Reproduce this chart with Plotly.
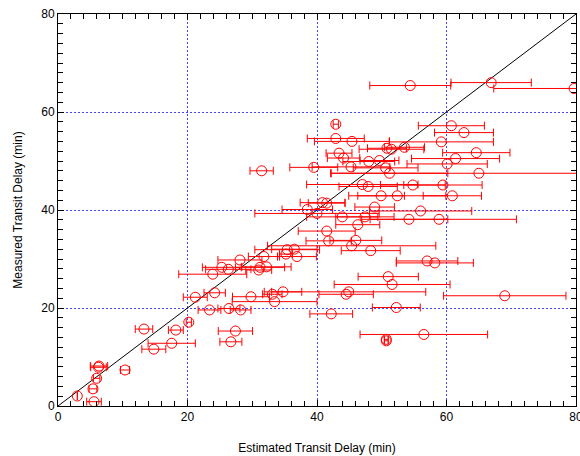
import plotly.graph_objects as go

# Estimated transit delay (min), measured transit delay (min), estimate uncertainty (+/- min)
est_delay = [2.98, 5.56, 5.4, 5.97, 6.33, 6.25, 10.35, 13.28, 14.8, 17.56,
             18.2, 20.2, 21.2, 23.4, 26.4, 28.2, 27.4, 26.7, 24.2, 29.8,
             33.1, 34.75, 33.45, 42.2, 44.5, 44.9, 69.0, 52.25, 56.5, 50.7,
             50.7, 51.0, 51.6, 57.0, 58.2, 41.8, 46.0, 45.35, 48.3, 46.3,
             41.5, 43.9, 47.4, 54.2, 58.85, 56.0, 48.9, 40.0, 38.5, 40.85,
             41.5, 47.0, 47.9, 54.8, 59.45, 49.9, 52.4, 60.9, 39.5, 31.45,
             45.25, 50.6, 51.2, 65.0, 42.9, 42.9, 45.4, 59.2, 50.8, 51.5,
             53.5, 43.4, 44.1, 64.6, 61.4, 48.0, 49.65, 60.1, 54.4, 66.9,
             79.7, 60.75, 62.7, 35.4, 36.5, 35.2, 36.9, 31.8, 28.1, 25.3,
             26.3, 31.2, 32.2, 31.0, 23.9]
meas_delay = [2.04, 0.88, 3.5, 5.65, 8.16, 7.9, 7.35, 15.7, 11.6, 12.8,
              15.5, 17.1, 22.2, 19.6, 19.9, 19.6, 15.3, 13.1, 23.1, 22.3,
              22.8, 23.3, 21.3, 18.8, 22.8, 23.3, 22.5, 20.1, 14.6, 13.3,
              13.6, 26.4, 24.8, 29.6, 29.2, 33.7, 33.8, 32.7, 31.7, 37.0,
              35.7, 38.6, 38.6, 38.1, 38.1, 39.8, 40.6, 39.3, 40.1, 41.5,
              41.4, 45.2, 44.8, 45.1, 45.1, 42.9, 42.9, 42.9, 48.7, 48.0,
              48.8, 48.6, 47.5, 47.5, 57.5, 54.6, 54.0, 53.9, 52.6, 52.4,
              52.8, 51.6, 50.6, 51.7, 50.5, 49.9, 50.1, 49.4, 65.4, 66.0,
              64.8, 57.2, 55.8, 31.9, 32.0, 31.0, 30.5, 30.5, 29.8, 28.3,
              27.9, 28.3, 28.4, 27.75, 26.9]
est_err = [0.0, 1.13, 0.6, 0.5, 1.34, 1.2, 0.7, 1.35, 1.85, 3.65,
           1.15, 0.4, 1.85, 1.76, 1.7, 1.6, 2.65, 1.7, 1.65, 2.85,
           1.5, 2.9, 6.55, 3.3, 4.2, 11.9, 9.45, 3.7, 9.85, 0.3,
           0.3, 4.65, 8.95, 4.75, 5.95, 3.5, 4.0, 13.0, 4.55, 3.4,
           4.4, 5.5, 4.5, 6.0, 11.95, 7.9, 3.05, 9.6, 3.9, 3.45,
           2.85, 8.6, 4.5, 5.0, 6.05, 3.6, 7.5, 4.5, 3.7, 1.8,
           6.0, 5.0, 9.0, 22.9, 0.4, 4.4, 5.8, 8.05, 3.0, 5.0,
           3.1, 2.0, 2.5, 5.2, 6.8, 4.0, 3.0, 6.2, 6.25, 6.2,
           12.4, 5.1, 4.55, 5.0, 3.5, 1.0, 3.0, 2.4, 3.4, 3.0,
           3.5, 3.8, 3.8, 2.0, 5.25]

identity = [0, 80]
tick_vals = [0, 20, 40, 60, 80]

FONT = "Liberation Sans, Arial, sans-serif"

fig = go.Figure()
fig.add_trace(go.Scatter(
    x=identity, y=identity, mode="lines",
    line=dict(color="black", width=1), hoverinfo="skip", showlegend=False))
fig.add_trace(go.Scatter(
    x=est_delay, y=meas_delay, mode="markers",
    marker=dict(symbol="circle-open", size=10, color="#ff0000",
                line=dict(width=1, color="#ff0000")),
    error_x=dict(type="data", array=est_err, symmetric=True,
                 color="#ff0000", thickness=1, width=4),
    showlegend=False))

axis_common = dict(
    range=[0, 80], tickvals=tick_vals, ticktext=[str(v) for v in tick_vals],
    showline=True, linecolor="black", linewidth=1, mirror="ticks",
    ticks="inside", ticklen=6, tickcolor="black",
    showgrid=True, gridcolor="#4444ff", griddash="2px,2px", gridwidth=1,
    zeroline=False, ticklabeloverflow="allow", automargin=False,
    minor=dict(dtick=2, ticks="inside", ticklen=5, tickcolor="black", showgrid=False),
    tickfont=dict(family=FONT, size=12, color="black"),
)

fig.update_xaxes(**axis_common,
                 title=dict(text="Estimated Transit Delay (min)", standoff=20,
                            font=dict(family=FONT, size=12, color="black")))
fig.update_yaxes(**axis_common,
                 title=dict(text="Measured Transit Delay (min)", standoff=16,
                            font=dict(family=FONT, size=12, color="black")))

fig.update_layout(
    width=580, height=456,
    margin=dict(l=58, r=4, t=14, b=50),
    plot_bgcolor="white", paper_bgcolor="white",
)

fig.write_html("out.html")
